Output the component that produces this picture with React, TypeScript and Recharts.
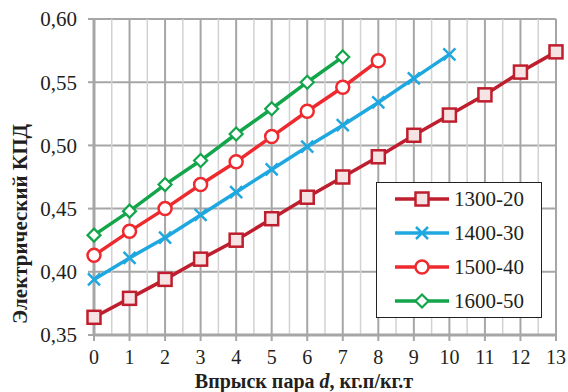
import { LineChart, Line, XAxis, YAxis, CartesianGrid, ReferenceLine } from 'recharts';

const steam = [0, 1, 2, 3, 4, 5, 6, 7, 8, 9, 10, 11, 12, 13];
const s1300 = [0.364, 0.379, 0.394, 0.41, 0.425, 0.442, 0.459, 0.475, 0.491, 0.508, 0.524, 0.54, 0.558, 0.574];
const s1400 = [0.394, 0.411, 0.427, 0.445, 0.463, 0.481, 0.499, 0.516, 0.534, 0.553, 0.572];
const s1500 = [0.413, 0.432, 0.45, 0.469, 0.487, 0.507, 0.527, 0.546, 0.567];
const s1600 = [0.429, 0.448, 0.469, 0.488, 0.509, 0.529, 0.55, 0.57];
const yTicks = [0.35, 0.4, 0.45, 0.5, 0.55, 0.6];
const seriesNames = ['1300-20', '1400-30', '1500-40', '1600-50'];

const data = steam.map((d, i) => ({
  d,
  a: s1300[i] ?? null,
  b: s1400[i] ?? null,
  c: s1500[i] ?? null,
  e: s1600[i] ?? null,
}));

const halfTicks = steam.slice(1).map((v) => v - 0.5);

const FONT = '"Liberation Serif", serif';
const GRID = '#a6a6a6';
const colors = ['#be1e2d', '#1fa8e0', '#ee2a2e', '#12a54a'];
const kinds = ['square', 'cross', 'circle', 'diamond'];

const Marker = ({ cx, cy, kind, color }: { cx: number; cy: number; kind: string; color: string }) => {
  if (cx == null || cy == null) return null;
  if (kind === 'square')
    return <rect x={cx - 6.5} y={cy - 6.5} width={13} height={13} fill='#f6e4e4' stroke={color} strokeWidth={2.5} />;
  if (kind === 'cross')
    return (
      <path
        d={`M${cx - 6},${cy - 6}L${cx + 6},${cy + 6}M${cx - 6},${cy + 6}L${cx + 6},${cy - 6}`}
        stroke={color}
        strokeWidth={2.5}
      />
    );
  if (kind === 'circle') return <circle cx={cx} cy={cy} r={6.5} fill='#fff' stroke={color} strokeWidth={2.5} />;
  return (
    <path
      d={`M${cx},${cy - 6.5}L${cx + 6.5},${cy}L${cx},${cy + 6.5}L${cx - 6.5},${cy}Z`}
      fill='#fff'
      stroke={color}
      strokeWidth={2.2}
    />
  );
};

const dotFor = (i: number) => (p: any) =>
  p.value == null ? <g key={p.key} /> : <Marker key={p.key} cx={p.cx} cy={p.cy} kind={kinds[i]} color={colors[i]} />;

// legend sits over the plot, like the original
const LegendBox = () => (
  <div
    style={{
      position: 'absolute',
      left: 376,
      top: 182,
      width: 166,
      height: 136,
      border: '1.5px solid #222',
      background: '#fff',
      boxSizing: 'border-box',
    }}
  >
    <svg width={164} height={134} style={{ display: 'block' }}>
      {seriesNames.map((name, i) => {
        const y = 16 + i * 34;
        return (
          <g key={name}>
            <line x1={18} x2={72} y1={y} y2={y} stroke={colors[i]} strokeWidth={3.5} />
            <Marker cx={45} cy={y} kind={kinds[i]} color={colors[i]} />
            <text x={77} y={y + 7} style={{ fontFamily: FONT }} fontSize={21} fill='#231f20'>
              {name}
            </text>
          </g>
        );
      })}
    </svg>
  </div>
);

const App = () => (
  <div style={{ position: 'absolute', left: 0, top: 0, width: 568, height: 392, fontFamily: FONT }}>
    <LineChart width={568} height={392} data={data} margin={{ top: 19, right: 12, bottom: 0, left: 0 }}>
      <CartesianGrid stroke={GRID} strokeWidth={2} />
      {halfTicks.map((v) => (
        <ReferenceLine key={v} x={v} stroke='#d2d2d2' strokeWidth={1.5} />
      ))}
      <XAxis
        dataKey='d'
        type='number'
        domain={[0, 13]}
        ticks={steam}
        interval={0}
        height={57}
        axisLine={{ stroke: GRID, strokeWidth: 3 }}
        tickLine={{ stroke: GRID, strokeWidth: 2 }}
        tickSize={6}
        tickMargin={9}
        tick={{ style: { fontFamily: FONT }, fontSize: 20, fill: '#231f20' }}
        label={{
          content: () => (
            <text
              x={304}
              y={387.5}
              textAnchor='middle'
              style={{ fontFamily: FONT }}
              fontSize={20}
              fontWeight='bold'
              fill='#231f20'
            >
              Впрыск пара <tspan fontStyle='italic'>d</tspan>, кг.п/кг.т
            </text>
          ),
        }}
      />
      <YAxis
        type='number'
        domain={[0.35, 0.6]}
        ticks={yTicks}
        interval={0}
        width={94}
        axisLine={{ stroke: GRID, strokeWidth: 3 }}
        tickLine={{ stroke: GRID, strokeWidth: 2 }}
        tickSize={6}
        tickMargin={11}
        tickFormatter={(v: number) => v.toFixed(2).replace('.', ',')}
        tick={{ style: { fontFamily: FONT }, fontSize: 21, fill: '#231f20' }}
        label={{
          content: () => (
            <text
              x={27}
              y={224}
              transform='rotate(-90 27 224)'
              textAnchor='middle'
              style={{ fontFamily: FONT }}
              fontSize={21}
              fontWeight='bold'
              fill='#231f20'
            >
              Электрический КПД
            </text>
          ),
        }}
      />
      {['a', 'b', 'c', 'e'].map((k, i) => (
        <Line
          key={k}
          dataKey={k}
          name={seriesNames[i]}
          stroke={colors[i]}
          strokeWidth={3.5}
          dot={dotFor(i)}
          activeDot={false}
          isAnimationActive={false}
        />
      ))}
    </LineChart>
    <LegendBox />
  </div>
);

export default App;
